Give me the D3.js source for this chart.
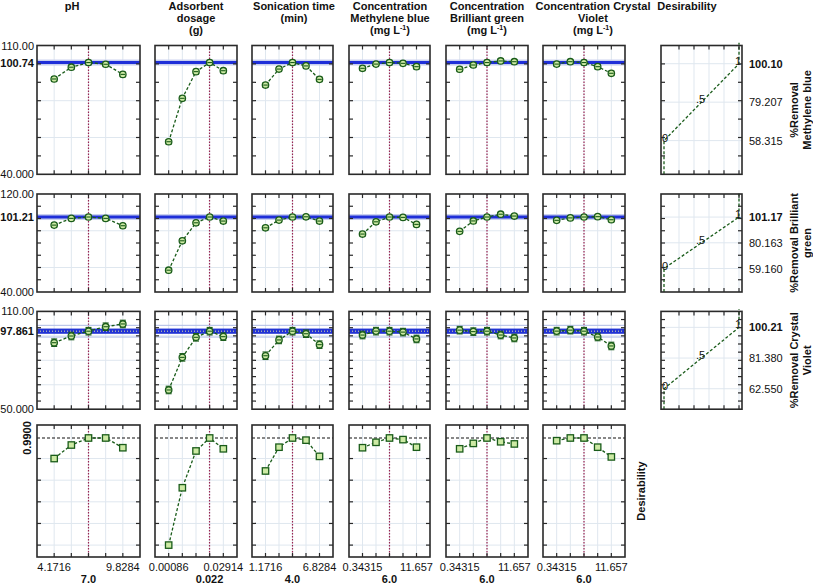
<!DOCTYPE html>
<html><head><meta charset="utf-8">
<script src="https://cdn.jsdelivr.net/npm/d3@7"></script>
<style>body{margin:0;background:#fff} text{font-family:"Liberation Sans",Arial,sans-serif;fill:#111}</style>
</head><body><svg id="c" width="813" height="585"></svg>
<script>
// ---------------- DATA ----------------
const factorHeaders = [
  ["pH"],
  ["Adsorbent", "dosage", "(g)"],
  ["Sonication time", "(min)"],
  ["Concentration", "Methylene blue", "(mg L|-1|)"],
  ["Concentration", "Brilliant green", "(mg L|-1|)"],
  ["Concentration Crystal", "Violet", "(mg L|-1|)"]
];
const levelsPH = [4.1716, 5.5858, 7.0, 8.4142, 9.8284];
const levelsDosage = [0.00086, 0.00793, 0.015, 0.02207, 0.02914];
const levelsTime = [1.1716, 2.5858, 4.0, 5.4142, 6.8284];
const levelsConc = [0.34315, 3.1716, 6.0, 8.8284, 11.657];
const levelLabelsMin = ["4.1716", "0.00086", "1.1716", "0.34315", "0.34315", "0.34315"];
const levelLabelsMax = ["9.8284", "0.02914", "6.8284", "11.657", "11.657", "11.657"];
const optimum = [7.0, 0.022, 4.0, 6.0, 6.0, 6.0];
const optimumLabels = ["7.0", "0.022", "4.0", "6.0", "6.0", "6.0"];

// %Removal Methylene blue (one array per factor)
const removalMB = [
  [91.8, 98.2, 100.74, 99.8, 94.3],
  [57.7, 81.3, 95.8, 100.74, 96.3],
  [88.5, 97.2, 100.74, 98.9, 91.6],
  [97.6, 99.9, 100.74, 100.3, 98.5],
  [97.1, 99.4, 100.74, 101.6, 101.2],
  [99.9, 101.2, 100.74, 98.5, 94.9]
];
// %Removal Brilliant green
const removalBG = [
  [94.6, 100.1, 101.21, 100.1, 94.1],
  [57.8, 81.8, 96.5, 101.21, 97.9],
  [92.4, 98.7, 101.21, 101.4, 97.9],
  [87.3, 97.3, 101.21, 100.9, 95.2],
  [89.5, 98.0, 101.21, 103.5, 102.0],
  [98.5, 100.5, 101.21, 101.5, 99.0]
];
// %Removal Crystal Violet
const removalCV = [
  [90.8, 94.9, 97.861, 100.6, 102.3],
  [61.8, 81.8, 94.1, 97.861, 94.5],
  [82.8, 92.5, 97.861, 96.3, 89.6],
  [95.5, 97.9, 97.861, 97.3, 93.1],
  [98.5, 97.6, 97.861, 95.5, 93.7],
  [97.9, 98.5, 97.861, 94.3, 88.8]
];
// Desirability profiles
const desirabilityProfile = [
  [0.80, 0.925, 0.99, 0.99, 0.90],
  [0.00, 0.53, 0.87, 0.99, 0.89],
  [0.685, 0.905, 0.99, 0.97, 0.82],
  [0.90, 0.95, 0.99, 0.975, 0.905],
  [0.89, 0.94, 0.99, 0.955, 0.935],
  [0.965, 0.99, 0.99, 0.905, 0.815]
];
const confHalfWidth = [1.2, 1.5, 2.3];

const predictedValues = [100.74, 101.21, 97.861];
const predictedLabels = ["100.74", "101.21", "97.861"];
const axisMaxLabels = ["110.00", "120.00", "110.00"];
const axisMinLabels = ["40.000", "40.000", "50.000"];
const responseDomains = [[40, 110], [40, 120], [50, 110]];
const responseTickSteps = [10, 10, 5];
const responseGrid = [[60, 80, 100], [60, 90], [65, 80, 95]];
const desirabilityDomain = [-0.11, 1.11];
const desirabilityTicks = [0, 0.2, 0.4, 0.6, 0.8];
const desirabilityTarget = 0.99;
const desirabilityTargetLabel = "0.9900";

const desirLow = [58.315, 59.160, 62.550];
const desirMid = [79.207, 80.163, 81.380];
const desirHigh = [100.10, 101.17, 100.21];
const desirLowLabels = ["58.315", "59.160", "62.550"];
const desirMidLabels = ["79.207", "80.163", "81.380"];
const desirHighLabels = ["100.10", "101.17", "100.21"];
const desirPointLabels = ["0", ".5", "1"];
const desirXTicks = [0.2, 0.4, 0.6, 0.8, 1.0];
const responseTitles = [["%Removal", "Methylene blue"], ["%Removal Brilliant", "green"], ["%Removal Crystal", "Violet"]];

// ---------------- LAYOUT ----------------
const levels = [levelsPH, levelsDosage, levelsTime, levelsConc, levelsConc, levelsConc];
const responses = [removalMB, removalBG, removalCV];
const colX = [[37, 140], [155, 237], [252, 333], [349, 430], [446, 528], [543, 625]];
const rowY = [[45.5, 174.3], [194, 292], [311.4, 409.2], [425, 557]];
const desX = [661, 742];
const headerCenters = [72, 196, 294, 390, 487, 593];

const GREEN = "#1a5c1a", FILL = "#cdeaa4", GRID = "#dfe7ef", FRAME = "#2a2a2a";
const svg = d3.select("#c");
svg.append("rect").attr("width", 813).attr("height", 585).attr("fill", "#fff");

function headerText(g, x, y, line, size) {
  const t = g.append("text").attr("x", x).attr("y", y).attr("text-anchor", "middle")
    .attr("font-size", size).attr("font-weight", "bold");
  const parts = line.split("|");
  parts.forEach((p, i) => {
    if (i % 2 === 1) t.append("tspan").attr("font-size", 7).attr("dy", -4).text(p);
    else if (i > 0) t.append("tspan").attr("dy", 4).text(p);
    else t.append("tspan").text(p);
  });
}

factorHeaders.forEach((lines, c) => {
  lines.forEach((l, i) => headerText(svg, headerCenters[c], 10 + i * 11.8, l, 11));
});
headerText(svg, 687, 10, "Desirability", 11);

function frameAndTicks(g, x0, x1, y0, y1, xs, xTickVals, ys, yTickVals) {
  g.append("rect").attr("x", x0).attr("y", y0).attr("width", x1 - x0).attr("height", y1 - y0)
    .attr("fill", "none").attr("stroke", FRAME).attr("stroke-width", 1.6);
  xTickVals.forEach(v => {
    const x = xs(v);
    g.append("line").attr("x1", x).attr("x2", x).attr("y1", y0).attr("y2", y0 + 4).attr("stroke", FRAME).attr("stroke-width", 1.2);
    g.append("line").attr("x1", x).attr("x2", x).attr("y1", y1 - 4).attr("y2", y1).attr("stroke", FRAME).attr("stroke-width", 1.2);
  });
  yTickVals.forEach(v => {
    const y = ys(v);
    if (y <= y0 + 1 || y >= y1 - 1) return;
    g.append("line").attr("x1", x0).attr("x2", x0 + 4).attr("y1", y).attr("y2", y).attr("stroke", FRAME).attr("stroke-width", 1.2);
    g.append("line").attr("x1", x1 - 4).attr("x2", x1).attr("y1", y).attr("y2", y).attr("stroke", FRAME).attr("stroke-width", 1.2);
  });
}

const line = d3.line();

for (let r = 0; r < 4; r++) {
  const [y0, y1] = rowY[r];
  const isDes = r === 3;
  const ys = d3.scaleLinear().domain(isDes ? desirabilityDomain : responseDomains[r]).range([y1, y0]);
  const yTicks = isDes ? desirabilityTicks : d3.range(responseDomains[r][0], responseDomains[r][1] + 0.001, responseTickSteps[r]);
  const yGrid = isDes ? desirabilityTicks : responseGrid[r];

  for (let c = 0; c < 6; c++) {
    const [x0, x1] = colX[c];
    const lv = levels[c];
    const step = lv[1] - lv[0];
    const xs = d3.scaleLinear().domain([lv[0] - step, lv[4] + step]).range([x0, x1]);
    const g = svg.append("g");
    lv.forEach(v => g.append("line").attr("x1", xs(v)).attr("x2", xs(v)).attr("y1", y0).attr("y2", y1).attr("stroke", GRID).attr("stroke-width", 1));
    yGrid.forEach(v => g.append("line").attr("x1", x0).attr("x2", x1).attr("y1", ys(v)).attr("y2", ys(v)).attr("stroke", GRID).attr("stroke-width", 1));
    g.append("line").attr("x1", xs(optimum[c])).attr("x2", xs(optimum[c])).attr("y1", y0).attr("y2", y1)
      .attr("stroke", "#9a2450").attr("stroke-width", 1.2).attr("stroke-dasharray", "1.5,1.5");
    const vals = isDes ? desirabilityProfile[c] : responses[r][c];
    if (!isDes) {
      const pv = predictedValues[r];
      if (r === 2) {
        [-3.6, 3.6].forEach(o => g.append("line").attr("x1", x0).attr("x2", x1).attr("y1", ys(pv + o)).attr("y2", ys(pv + o)).attr("stroke", "#aebbe6").attr("stroke-width", 1));
        g.append("rect").attr("x", x0).attr("width", x1 - x0).attr("y", ys(pv + 1.6)).attr("height", ys(pv - 1.6) - ys(pv + 1.6)).attr("fill", "#2233d4");
        g.append("line").attr("x1", x0).attr("x2", x1).attr("y1", ys(pv)).attr("y2", ys(pv)).attr("stroke", "#e8e6a0").attr("stroke-width", 1).attr("stroke-dasharray", "1,2");
      } else {
        g.append("rect").attr("x", x0).attr("width", x1 - x0).attr("y", ys(pv) - 3).attr("height", 6).attr("fill", "#c9d0ee");
        g.append("line").attr("x1", x0).attr("x2", x1).attr("y1", ys(pv)).attr("y2", ys(pv)).attr("stroke", "#1f2fd8").attr("stroke-width", 3);
      }
    } else {
      g.append("line").attr("x1", x0).attr("x2", x1).attr("y1", ys(desirabilityTarget)).attr("y2", ys(desirabilityTarget))
        .attr("stroke", "#111").attr("stroke-width", 1.2).attr("stroke-dasharray", "3,2");
    }
    g.append("path").attr("d", line(vals.map((v, i) => [xs(lv[i]), ys(v)])))
      .attr("fill", "none").attr("stroke", GREEN).attr("stroke-width", 1.3).attr("stroke-dasharray", "3,2");
    vals.forEach((v, i) => {
      const px = xs(lv[i]), py = ys(v);
      if (isDes) {
        g.append("rect").attr("x", px - 3.2).attr("y", py - 3.2).attr("width", 6.4).attr("height", 6.4)
          .attr("fill", FILL).attr("stroke", GREEN).attr("stroke-width", 1.3);
      } else {
        const ci = confHalfWidth[r];
        const ya = ys(v + ci), yb = ys(v - ci);
        g.append("line").attr("x1", px).attr("x2", px).attr("y1", ya).attr("y2", yb).attr("stroke", GREEN).attr("stroke-width", 1.1);
        [ya, yb].forEach(yy => g.append("line").attr("x1", px - 3).attr("x2", px + 3).attr("y1", yy).attr("y2", yy).attr("stroke", GREEN).attr("stroke-width", 1.1));
        g.append("circle").attr("cx", px).attr("cy", py).attr("r", 3.2).attr("fill", FILL).attr("stroke", GREEN).attr("stroke-width", 1.3);
        g.append("line").attr("x1", px - 2.3).attr("x2", px + 2.3).attr("y1", py).attr("y2", py).attr("stroke", GREEN).attr("stroke-width", 1.1);
      }
    });
    frameAndTicks(g, x0, x1, y0, y1, xs, lv, ys, yTicks);

    if (isDes) {
      svg.append("text").attr("x", xs(lv[0])).attr("y", 571).attr("text-anchor", "middle").attr("font-size", 11).text(levelLabelsMin[c]);
      svg.append("text").attr("x", xs(lv[4])).attr("y", 571).attr("text-anchor", "middle").attr("font-size", 11).text(levelLabelsMax[c]);
      svg.append("text").attr("x", xs(optimum[c])).attr("y", 583).attr("text-anchor", "middle").attr("font-size", 11).attr("font-weight", "bold").text(optimumLabels[c]);
    }
  }

  if (!isDes) {
    const dom = responseDomains[r];
    svg.append("text").attr("x", 34).attr("y", ys(dom[1]) + 4).attr("text-anchor", "end").attr("font-size", 11).text(axisMaxLabels[r]);
    svg.append("text").attr("x", 34).attr("y", ys(dom[0]) + 4).attr("text-anchor", "end").attr("font-size", 11).text(axisMinLabels[r]);
    svg.append("text").attr("x", 34).attr("y", ys(predictedValues[r]) + 4).attr("text-anchor", "end").attr("font-size", 11).attr("font-weight", "bold").text(predictedLabels[r]);

    const [dx0, dx1] = desX;
    const dxs = d3.scaleLinear().domain([-0.04, 1.04]).range([dx0, dx1]);
    const g = svg.append("g");
    desirXTicks.forEach(v => g.append("line").attr("x1", dxs(v)).attr("x2", dxs(v)).attr("y1", y0).attr("y2", y1).attr("stroke", GRID));
    [desirLow[r], desirMid[r], desirHigh[r]].forEach(v => g.append("line").attr("x1", dx0).attr("x2", dx1).attr("y1", ys(v)).attr("y2", ys(v)).attr("stroke", GRID));
    const pts = [[0, dom[0]], [0, desirLow[r]], [0.5, desirMid[r]], [1, desirHigh[r]], [1, dom[1] + 1.5]];
    g.append("path").attr("d", line(pts.map(p => [dxs(p[0]), ys(p[1])])))
      .attr("fill", "none").attr("stroke", GREEN).attr("stroke-width", 1.3).attr("stroke-dasharray", "3,2");
    [[0, desirLow[r]], [0.5, desirMid[r]], [1, desirHigh[r]]].forEach((p, i) => {
      g.append("text").attr("x", dxs(p[0]) + (i === 0 ? 1 : -1)).attr("y", ys(p[1]) + 1).attr("text-anchor", "middle")
        .attr("font-size", 11).text(desirPointLabels[i]);
    });
    frameAndTicks(g, dx0, dx1, y0, y1, dxs, desirXTicks, ys, yTicks);
    svg.append("text").attr("x", 749).attr("y", ys(desirHigh[r]) + 4).attr("font-size", 11).attr("font-weight", "bold").text(desirHighLabels[r]);
    svg.append("text").attr("x", 749).attr("y", ys(desirMid[r]) + 4).attr("font-size", 11).text(desirMidLabels[r]);
    svg.append("text").attr("x", 749).attr("y", ys(desirLow[r]) + 4).attr("font-size", 11).text(desirLowLabels[r]);
    const cy = (y0 + y1) / 2;
    const t = svg.append("text").attr("transform", `translate(798,${cy}) rotate(-90)`).attr("text-anchor", "middle")
      .attr("font-size", 11).attr("font-weight", "bold");
    responseTitles[r].forEach((l, i) => t.append("tspan").attr("x", 0).attr("dy", i === 0 ? 0 : 12.5).text(l));
  } else {
    svg.append("text").attr("transform", `translate(31,${ys(desirabilityTarget)}) rotate(-90)`).attr("text-anchor", "middle")
      .attr("font-size", 11).attr("font-weight", "bold").text(desirabilityTargetLabel);
    svg.append("text").attr("transform", `translate(645,${(y0 + y1) / 2}) rotate(-90)`).attr("text-anchor", "middle")
      .attr("font-size", 11).attr("font-weight", "bold").text("Desirability");
  }
}
</script></body></html>
